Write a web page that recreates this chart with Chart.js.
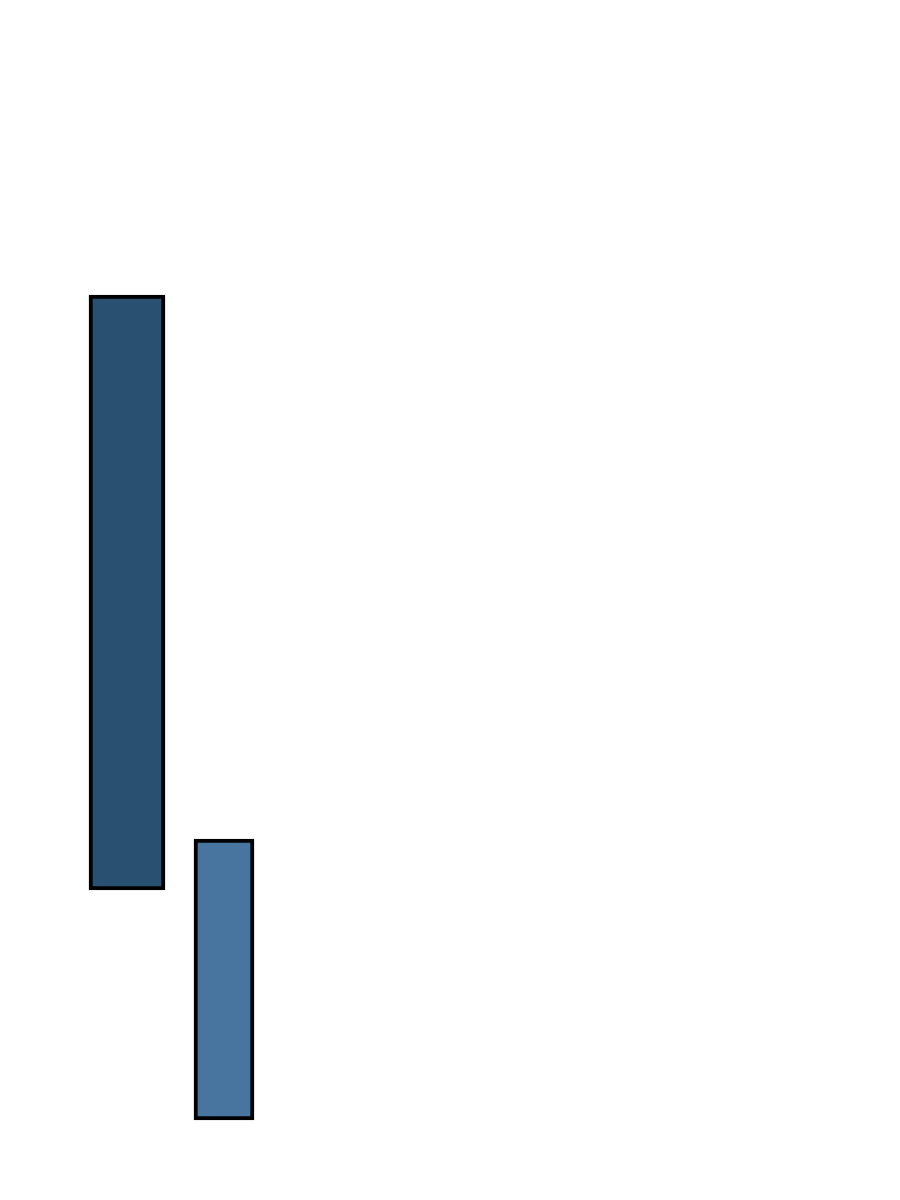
<!DOCTYPE html>
<html>
<head>
<meta charset="utf-8">
<style>
  html, body { margin: 0; padding: 0; background: #ffffff; }
  canvas { display: block; }
</style>
<script src="https://cdn.jsdelivr.net/npm/chart.js@4/dist/chart.umd.min.js"></script>
</head>
<body>
<canvas id="barChart" width="900" height="1200"></canvas>
<script>
"use strict";

// Two floating bars (x position, bottom, top)
const seriesNames = ['Bar 1', 'Bar 2'];
const xValues = [127, 224];
const lowValues = [310, 80];
const highValues = [905, 361];

const fillColors = ['#294f71', '#4874a0'];
const thickness = [76, 60];

const datasets = seriesNames.map((name, i) => ({
    label: name,
    data: [{ x: xValues[i], y: [lowValues[i], highValues[i]] }],
    backgroundColor: fillColors[i],
    borderColor: '#000000',
    borderWidth: 4,
    borderSkipped: false,
    barThickness: thickness[i],
    grouped: false
}));

const barCtx = document.getElementById('barChart');
new Chart(barCtx, {
    type: 'bar',
    data: { datasets: datasets },
    options: {
        responsive: false,
        animation: false,
        layout: { padding: 0 },
        plugins: {
            legend: { display: false },
            tooltip: { enabled: false }
        },
        scales: {
            x: { type: 'linear', min: 0, max: 900, offset: false, display: false },
            y: { min: 0, max: 1200, display: false }
        }
    }
});
</script>
</body>
</html>
